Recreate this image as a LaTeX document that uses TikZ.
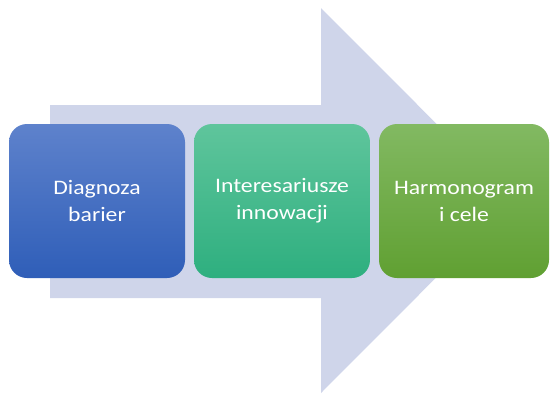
\documentclass[tikz,border=0pt]{standalone}
\usepackage{fontspec}
\setmainfont{Carlito}[FakeStretch=1.15]
\definecolor{arrowlav}{HTML}{CFD5EA}
\definecolor{bluetop}{HTML}{5E82CC}
\definecolor{bluebot}{HTML}{2F5EB8}
\definecolor{greentop}{HTML}{5FC59C}
\definecolor{greenbot}{HTML}{2EAF7F}
\definecolor{leaftop}{HTML}{82B962}
\definecolor{leafbot}{HTML}{60A032}
\tikzset{
  stage/.style={rounded corners=18pt, minimum height=154pt, align=center,
    text=white, font=\fontsize{20.6}{27}\selectfont, inner sep=0pt}
}

\begin{document}
\begin{tikzpicture}[x=1pt, y=-1pt]
                \useasboundingbox (0,0) rectangle (550,394);
                % big arrow behind the stages
                \fill [arrowlav] (50,105) -- (321,105) -- (321,8) -- (513,200.5) -- (321,393) -- (321,298) -- (50,298) -- cycle;
                \node [stage, minimum width=176pt, top color=bluetop, bottom color=bluebot] (diag) at (97,201) {Diagnoza\\barier};
                \node [stage, minimum width=176pt, top color=greentop, bottom color=greenbot] (inter) at (282,201) {Interesariusze\\innowacji};
                \node [stage, minimum width=170pt, top color=leaftop, bottom color=leafbot] (harm) at (464,201) {Harmonogram\\i cele};
            \end{tikzpicture}
\end{document}
